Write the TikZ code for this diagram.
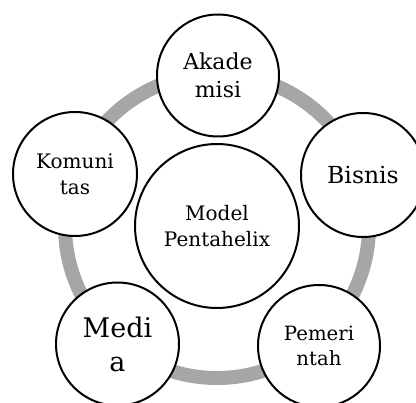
\documentclass[tikz,border=0pt]{standalone}
\usepackage{fontspec}
\setmainfont{DejaVu Serif}
\begin{document}
\begin{tikzpicture}[x=1pt,y=-1pt,
  actor/.style={circle,draw=black,line width=2pt,fill=white,inner sep=0pt,align=center,text=black},
  ring/.style={draw=black!35,line width=14pt}]
\useasboundingbox (0,0) rectangle (416,403);
\clip (0,0) rectangle (416,403);
\coordinate (o) at (217,226);
\draw[ring] (o) circle[radius=152pt];
\node[actor,minimum size=164pt,font=\fontsize{20}{26}\selectfont] (c) at (217,226) {Model\\Pentahelix};
\node[actor,minimum size=122pt,font=\fontsize{22}{28}\selectfont] (ak) at (218,75.5) {Akade\\misi};
\node[actor,minimum size=124pt,font=\fontsize{23.5}{28}\selectfont] (bi) at (363,175) {Bisnis};
\node[actor,minimum size=124pt,font=\fontsize{20}{26}\selectfont] (ko) at (75,174) {Komuni\\tas};
\node[actor,minimum size=123pt,font=\fontsize{27}{34}\selectfont] (me) at (117.5,344) {Medi\\a};
\node[actor,minimum size=122pt,font=\fontsize{19.7}{25}\selectfont] (pe) at (319,346) {Pemeri\\ntah};
\end{tikzpicture}
\end{document}
